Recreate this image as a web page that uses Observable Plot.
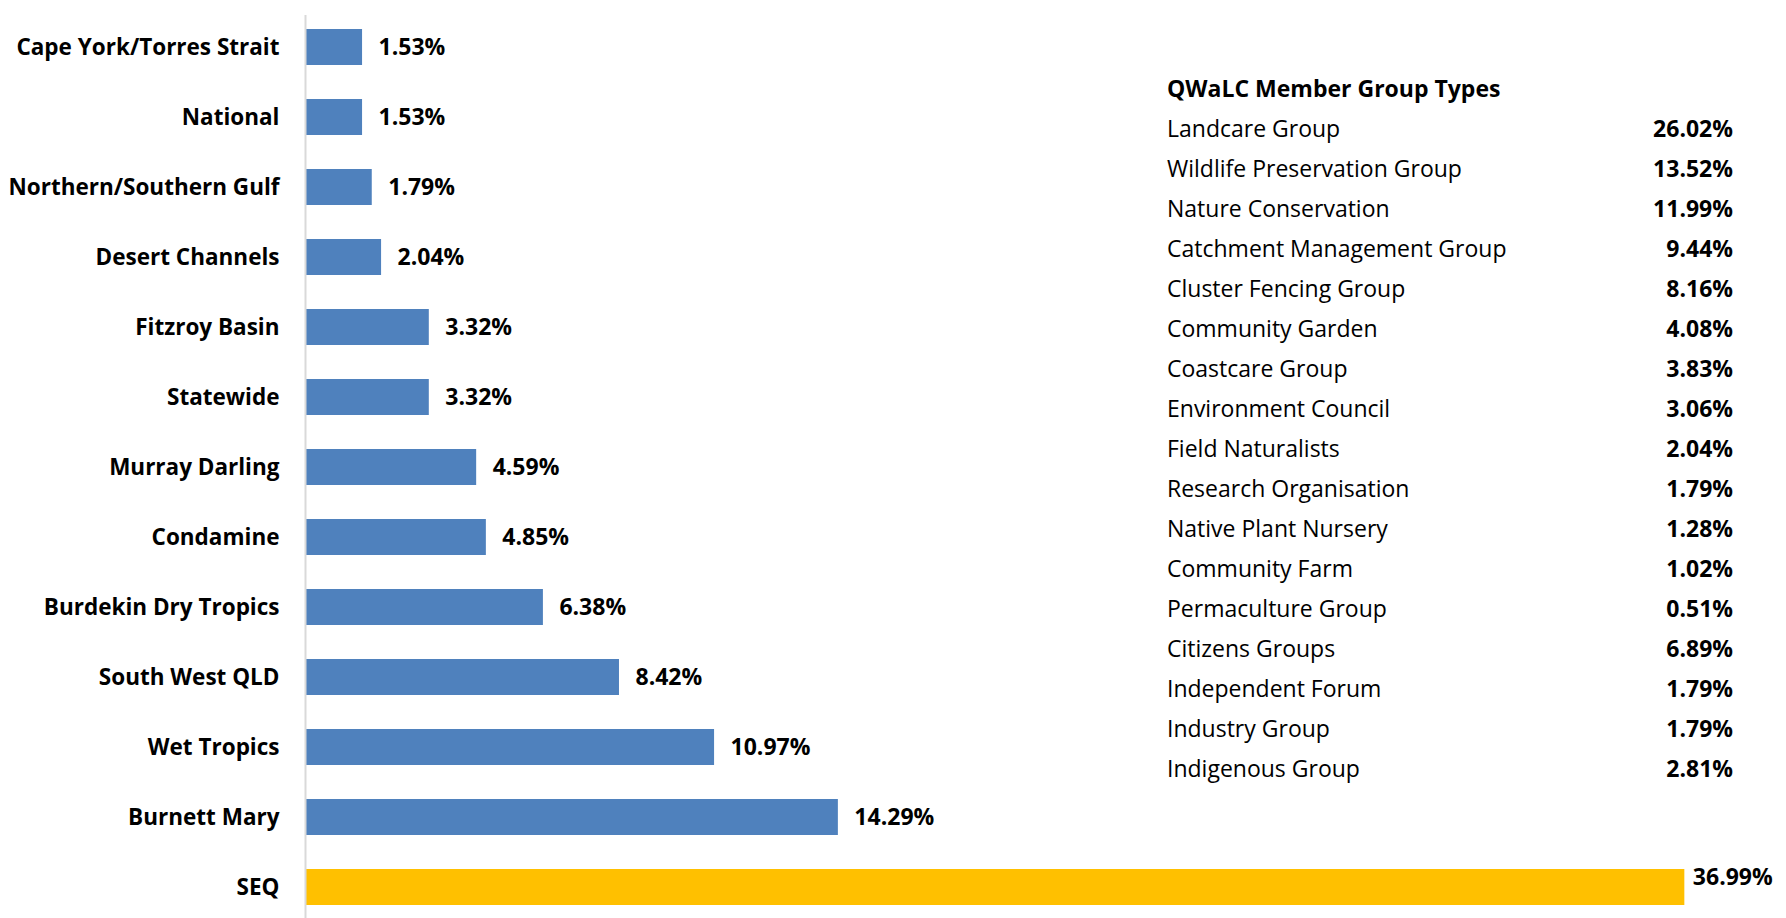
<!DOCTYPE html>
<html>
<head>
<meta charset="utf-8">
<script src="https://cdn.jsdelivr.net/npm/d3@7"></script>
<script src="https://cdn.jsdelivr.net/npm/@observablehq/plot@0.6"></script>
<style>
  html, body { margin: 0; padding: 0; background: #fff; }
  #wrap { position: relative; width: 1786px; height: 918px; font-family: "Open Sans", sans-serif; }
  #table { position: absolute; left: 1167px; top: 68px; width: 566px; font-size: 23px; color: #000; }
  #table .row { display: flex; justify-content: space-between; height: 40px; line-height: 40px; }
  #table .title { font-weight: bold; }
  #table .pct { font-weight: bold; }
</style>
</head>
<body>
<div id="wrap"></div>
<script>
const regions = ["Cape York/Torres Strait", "National", "Northern/Southern Gulf", "Desert Channels", "Fitzroy Basin", "Statewide", "Murray Darling", "Condamine", "Burdekin Dry Tropics", "South West QLD", "Wet Tropics", "Burnett Mary", "SEQ"];
const regionValues = [1.53, 1.53, 1.79, 2.04, 3.32, 3.32, 4.59, 4.85, 6.38, 8.42, 10.97, 14.29, 36.99];
const highlighted = ["SEQ"];

const groupTitle = "QWaLC Member Group Types";
const groupTypes = ["Landcare Group", "Wildlife Preservation Group", "Nature Conservation", "Catchment Management Group", "Cluster Fencing Group", "Community Garden", "Coastcare Group", "Environment Council", "Field Naturalists", "Research Organisation", "Native Plant Nursery", "Community Farm", "Permaculture Group", "Citizens Groups", "Independent Forum", "Industry Group", "Indigenous Group"];
const groupValues = [26.02, 13.52, 11.99, 9.44, 8.16, 4.08, 3.83, 3.06, 2.04, 1.79, 1.28, 1.02, 0.51, 6.89, 1.79, 1.79, 2.81];

const data = regions.map((r, i) => ({region: r, value: regionValues[i], hi: highlighted.includes(r)}));
const fmt = v => d3.format(".2f")(v) + "%";
const blue = "#4F81BD", gold = "#FFC000";

const chart = Plot.plot({
  width: 1786,
  height: 918,
  marginLeft: 305,
  marginRight: 64,
  marginTop: 15,
  marginBottom: 0,
  style: {fontFamily: "'Open Sans', sans-serif", background: "#fff"},
  x: {domain: [0, 38], axis: null},
  y: {domain: regions, paddingInner: 0.49, paddingOuter: 0.16, label: null},
  marks: [
    Plot.barX(data, {x: "value", y: "region", fill: d => d.hi ? gold : blue}),
    Plot.ruleX([0], {stroke: "#D9D9D9", strokeWidth: 2}),
    Plot.text(data.filter(d => !d.hi), {x: "value", y: "region", text: d => fmt(d.value), textAnchor: "start", dx: 16, fontSize: 23, fontWeight: "bold", fill: "#000"}),
    Plot.text(data.filter(d => d.hi), {x: "value", y: "region", text: d => fmt(d.value), textAnchor: "start", dx: 8, dy: -10, fontSize: 23, fontWeight: "bold", fill: "#000"}),
    Plot.axisY({tickSize: 0, tickPadding: 26, fontSize: 22.5, fontWeight: "bold", fill: "#000", label: null})
  ]
});

const wrap = document.getElementById("wrap");
wrap.appendChild(chart);

const table = document.createElement("div");
table.id = "table";
const t = document.createElement("div");
t.className = "row title";
t.textContent = groupTitle;
table.appendChild(t);
groupTypes.forEach((g, i) => {
  const row = document.createElement("div");
  row.className = "row";
  const a = document.createElement("span"); a.textContent = g;
  const b = document.createElement("span"); b.className = "pct"; b.textContent = fmt(groupValues[i]);
  row.appendChild(a); row.appendChild(b);
  table.appendChild(row);
});
wrap.appendChild(table);
</script>
</body>
</html>
